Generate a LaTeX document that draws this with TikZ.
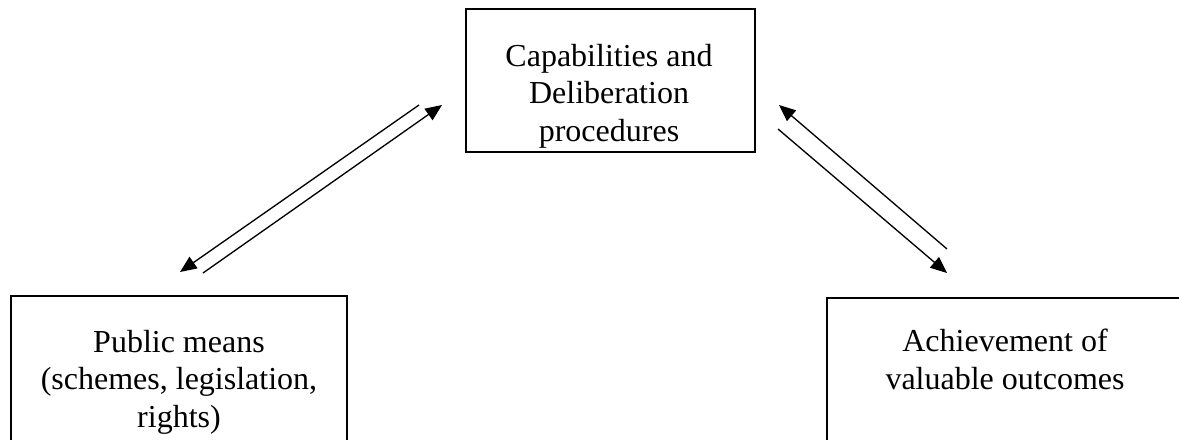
\documentclass[tikz,border=0pt]{standalone}
\usepackage{fontspec}
\setmainfont{Liberation Serif}
\usetikzlibrary{arrows.meta}

\begin{document}
\begin{tikzpicture}[x=0.375pt,y=-0.375pt,
   box/.style={draw,line width=0.8pt,inner sep=0pt},
   boxtext/.style={align=center,inner sep=0pt,anchor=base,
      font=\fontsize{12pt}{13.9pt}\selectfont},
   link/.style={line width=0.5pt,-{Triangle[length=6.2pt,width=5.2pt]}}]

\useasboundingbox (0,0) rectangle (1179,439);

% the three boxes (the lower two run past the page edge)
\node[box,minimum width=108.4pt,minimum height=53.6pt] (cap) at (610.5,80.5) {};
\node[box,minimum width=126pt,minimum height=56pt] (pub) at (179,370.5) {};
\node[box,minimum width=133.5pt,minimum height=56pt] (ach) at (1005,372.5) {};

% texts, placed at the baseline of their last line
\node[boxtext] (captext) at (609,141) {Capabilities and\\Deliberation\\procedures};
\node[boxtext] (pubtext) at (179,427) {Public means\\(schemes, legislation,\\rights)};
\node[boxtext] (achtext) at (1005,389) {Achievement of\\valuable outcomes};

% ends of the arrow pairs
\coordinate (pubA) at (180,272);  \coordinate (capA) at (419,105);
\coordinate (pubB) at (203,273);  \coordinate (capB) at (442,105);
\coordinate (capC) at (779,105);  \coordinate (achC) at (947,249);
\coordinate (capD) at (778,129);  \coordinate (achD) at (947,273);

\draw[link] (capA) -- (pubA);
\draw[link] (pubB) -- (capB);
\draw[link] (achC) -- (capC);
\draw[link] (capD) -- (achD);
\end{tikzpicture}
\end{document}
